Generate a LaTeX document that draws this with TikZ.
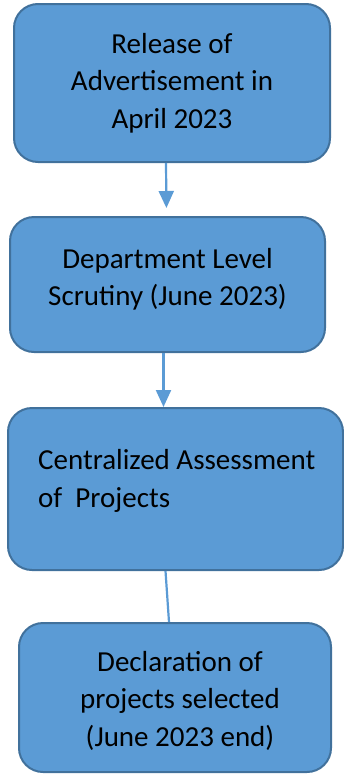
\documentclass[tikz,border=0pt]{standalone}
\usepackage{fontspec}
\setmainfont{Carlito}
\usetikzlibrary{arrows.meta}
\definecolor{boxfill}{HTML}{5B9BD5}
\definecolor{boxline}{HTML}{41719C}
\tikzset{
  stage/.style={draw=boxline, fill=boxfill, line width=2pt, rounded corners=24pt,
    inner sep=0pt},
  stagetext/.style={inner sep=0pt, font=\fontsize{29}{37.5}\selectfont},
  flow/.style={draw=boxfill, line width=2.2pt},
  flowarrow/.style={flow, -{Triangle[width=15pt,length=17pt]}}
}
\begin{document}
\begin{tikzpicture}[x=1pt, y=-1pt]
    \useasboundingbox (0,0) rectangle (344,774);
        % Stages
        \node (adv) [stage, minimum width=316pt, minimum height=158pt] at (172,83) {};
        \node (dept) [stage, minimum width=315pt, minimum height=135pt] at (167.5,284.5) {};
        \node (central) [stage, minimum width=335pt, minimum height=162pt] at (175.5,489) {};
        \node (decl) [stage, minimum width=312pt, minimum height=149pt] at (175,697.5) {};

        % Texts
        \node (advtext) [stagetext, align=center] at (adv) {Release of\\Advertisement in\\April 2023};
        \node (depttext) [stagetext, align=center] at ([yshift=5pt]dept) {Department Level\\Scrutiny (June 2023)};
        \node (centraltext) [stagetext, anchor=west, align=left] at ([xshift=31pt, yshift=8pt]central.west)
            {Centralized Assessment\\of\ \ Projects};
        \node (decltext) [stagetext, align=center] at ([xshift=5pt, yshift=-3pt]decl) {Declaration of\\projects selected\\(June 2023 end)};

        % Connectors
        \draw[flowarrow, shorten >=8pt] ([xshift=-6pt]adv.south) -- ([xshift=-1pt]dept.north);
        \draw[flowarrow] ([xshift=-4pt]dept.south) -- ([xshift=-4pt]dept.south |- central.north);
        \draw[flow] ([xshift=-10pt]central.south) -- ([xshift=-6pt]decl.north);
    \end{tikzpicture}
\end{document}
